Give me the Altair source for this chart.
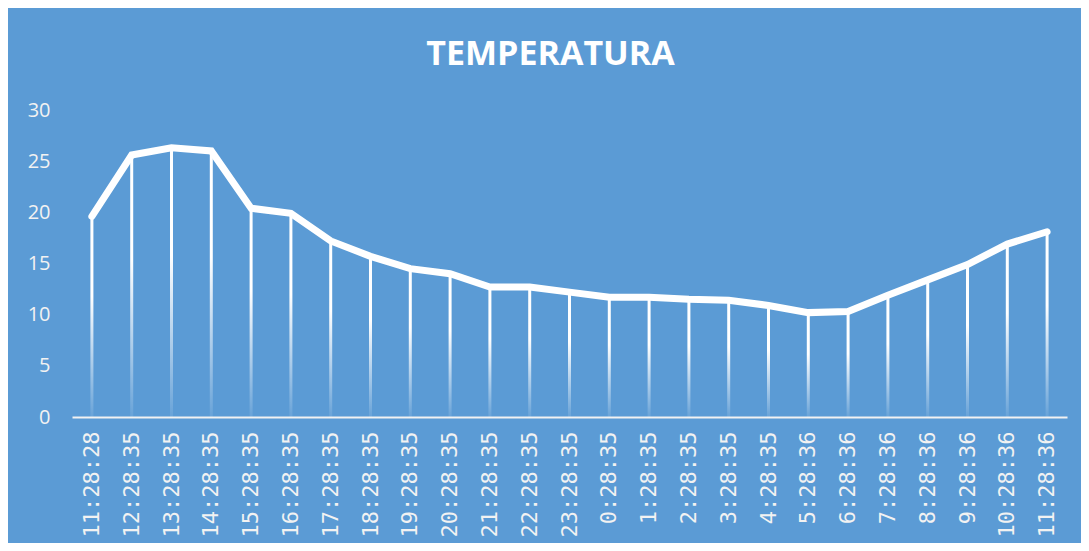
import altair as alt
import pandas as pd

times = ["11:28:28", "12:28:35", "13:28:35", "14:28:35", "15:28:35", "16:28:35",
         "17:28:35", "18:28:35", "19:28:35", "20:28:35", "21:28:35", "22:28:35",
         "23:28:35", "0:28:35", "1:28:35", "2:28:35", "3:28:35", "4:28:35",
         "5:28:36", "6:28:36", "7:28:36", "8:28:36", "9:28:36", "10:28:36", "11:28:36"]
temps = [19.6, 25.6, 26.3, 26.0, 20.4, 19.9, 17.2, 15.7, 14.5, 14.0, 12.7, 12.7,
         12.2, 11.7, 11.7, 11.5, 11.4, 10.9, 10.2, 10.3, 11.9, 13.4, 14.9, 16.9, 18.1]

df = pd.DataFrame({"t": times, "v": temps, "i": list(range(len(times)))})

x = alt.X("t:N", sort=times,
          scale=alt.Scale(paddingInner=0, paddingOuter=0),
          axis=alt.Axis(title=None, labelAngle=-90, labelFont="DejaVu Sans Mono",
                        labelFontSize=22, labelColor="#F2F2F2", labelPadding=14,
                        ticks=False, domainColor="#F2F2F2", domainWidth=2,
                        grid=False, labelBaseline="middle"))
y = alt.Y("v:Q", scale=alt.Scale(domain=[0, 30], nice=False),
          axis=alt.Axis(title=None, values=[0, 5, 10, 15, 20, 25, 30],
                        labelFont="Open Sans", labelFontSize=20, labelColor="#F2F2F2",
                        labelPadding=22, ticks=False, domain=False, grid=False))

grad = alt.Gradient(
    gradient="linear",
    stops=[alt.GradientStop(offset=0, color="rgba(255,255,255,1)"),
           alt.GradientStop(offset=0.4, color="rgba(255,255,255,1)"),
           alt.GradientStop(offset=1, color="rgba(255,255,255,0.08)")],
    x1=0, x2=0, y1=0, y2=1)

drops = alt.Chart(df).mark_bar(width=3, color=grad).encode(x=x, y=y, y2=alt.datum(0))
line = alt.Chart(df).mark_line(color="white", strokeWidth=7, strokeCap="round").encode(
    x=x, y=y, order="i:Q")

chart = alt.layer(drops, line).properties(
    width=995, height=307,
    background="#5B9BD5",
    padding={"left": 64, "top": 102, "right": 14, "bottom": 126},
    autosize=alt.AutoSizeParams(type="none"),
    title=alt.TitleParams("TEMPERATURA", font="Open Sans", fontSize=34, fontWeight="bold",
                          color="white", anchor="middle", baseline="alphabetic",
                          offset=1, dx=-19),
).configure_view(stroke=None)

chart.save("out.html", embed_options={"renderer": "svg", "actions": False})
